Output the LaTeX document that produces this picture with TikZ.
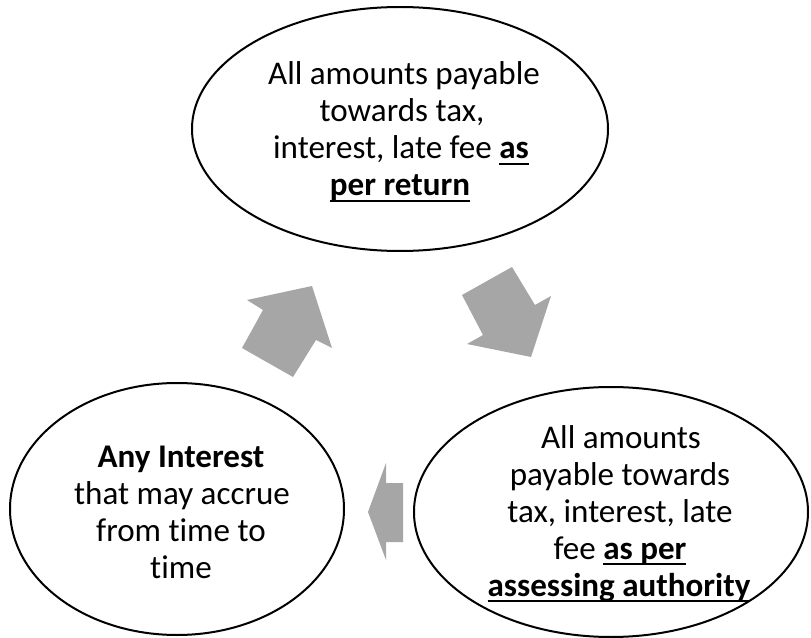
\documentclass[tikz,border=0pt]{standalone}
\usepackage{fontspec}
\setmainfont{Carlito}[Ligatures=CommonOff]
\usetikzlibrary{shapes.geometric}
\newcommand\myul[1]{\setbox0\hbox{#1}\rlap{\rule[-4.6pt]{\wd0}{1.5pt}}\box0}
\tikzset{
  bubble/.style={ellipse, draw=black, line width=1.5pt, inner sep=0pt},
  btext/.style={align=center, font=\fontsize{24.8pt}{27.75pt}\selectfont, inner sep=0pt, anchor=base},
  blockarrow/.style={fill=arrowgray, draw=none}
}
\definecolor{arrowgray}{HTML}{A6A6A6}
\begin{document}
\begin{tikzpicture}[x=0.75pt,y=-0.75pt]
\useasboundingbox (0,0) rectangle (811,638);
% ellipses
\node[bubble, minimum width=416*0.75pt, minimum height=244*0.75pt] (top) at (400,129) {};
\node[bubble, minimum width=394*0.75pt, minimum height=250*0.75pt] (right) at (611,512) {};
\node[bubble, minimum width=334*0.75pt, minimum height=252*0.75pt] (left) at (177,509) {};
% texts (one node per line, anchored at baselines)
\node[btext] (t1) at (404,85) {All amounts payable};
\node[btext] (t2) at (402,122) {towards tax,};
\node[btext] (t3) at (401,159) {interest, late fee \myul{\textbf{as}}};
\node[btext] (t4) at (400,196) {\myul{\textbf{per return}}};
\node[btext] (r1) at (621,448) {All amounts};
\node[btext] (r2) at (620,485) {payable towards};
\node[btext] (r3) at (620,522) {tax, interest, late};
\node[btext] (r4) at (620,559) {fee \myul{\textbf{as per}}};
\node[btext] (r5) at (619,596) {\myul{\textbf{assessing authority}}};
\node[btext] (l1) at (181,467) {\textbf{Any Interest}};
\node[btext] (l2) at (182,504) {that may accrue};
\node[btext] (l3) at (181,541) {from time to};
\node[btext] (l4) at (181,578) {time};
% block arrows
\fill[blockarrow] (242,348) -- (263,310) -- (247,300) -- (312,286) -- (332,348) -- (316,340) -- (293,377) -- cycle;
\fill[blockarrow] (462,295) -- (512,267) -- (535,305) -- (551,296) -- (531,357) -- (467,344) -- (483,335) -- cycle;
\fill[blockarrow] (403,483) -- (386,483) -- (386,463) -- (368,512) -- (386,560) -- (386,542) -- (403,542) -- cycle;
\end{tikzpicture}
\end{document}
